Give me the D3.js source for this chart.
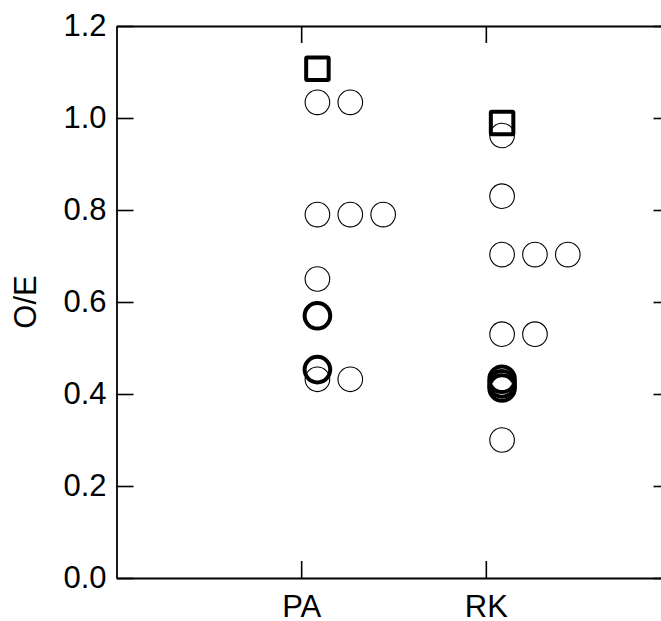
<!DOCTYPE html>
<html>
<head>
<meta charset="utf-8">
<script src="https://cdn.jsdelivr.net/npm/d3@7"></script>
<style>
  html, body { margin: 0; padding: 0; background: #fff; }
  svg { display: block; }
  text { font-family: "Liberation Sans", Arial, Helvetica, sans-serif; fill: #000; }
</style>
</head>
<body>
<svg id="chart" width="661" height="621"></svg>
<script>
// Groups on the x axis
const categories = ["PA", "RK"];
// O/E tick values
const yTicks = [0.0, 0.2, 0.4, 0.6, 0.8, 1.0, 1.2];

// Thin open circles (equal values sit side by side)
const paOpen = [1.034, 1.034, 0.790, 0.790, 0.790, 0.650, 0.432, 0.432];
const rkOpen = [0.962, 0.830, 0.703, 0.703, 0.703, 0.530, 0.530, 0.300];
// Bold open circles
const paBold = [0.570, 0.453];
const rkBold = [0.432, 0.422, 0.413];
// Bold open squares
const paSquare = [1.107];
const rkSquare = [0.989];

const svg = d3.select("#chart");
const plotLeft = 116.5, plotTop = 26, plotBottom = 578, plotRight = 670.5;
const fontSize = 31;

const x = d3.scaleLinear().domain([0, categories.length + 1]).range([plotLeft, plotRight]);
const y = d3.scaleLinear().domain([0, 1.2]).range([plotBottom, plotTop]);

// Dot offset from the category tick: first dot, then spacing between side-by-side dots
const firstOffset = 0.088, slotStep = 0.178;

function withSlots(values, catIndex) {
  const seen = new Map();
  return values.map(v => {
    const k = v.toFixed(3);
    const s = seen.get(k) || 0;
    seen.set(k, s + 1);
    return { cat: catIndex, value: v, slot: s };
  });
}
const px = d => x(d.cat + 1 + firstOffset + slotStep * d.slot);

// Axes: frame on all four sides with inward ticks
const tickLen = 17;
const axisStyle = g => {
  g.selectAll("path.domain").attr("stroke", "#000").attr("stroke-width", 1.8).attr("fill", "none");
  g.selectAll(".tick line").attr("stroke", "#000").attr("stroke-width", 1.6);
  g.selectAll(".tick text").style("font-size", fontSize + "px").attr("fill", "#000");
};
const catTicks = categories.map((c, i) => i + 1);

svg.append("g")
  .attr("transform", `translate(${plotLeft},0)`)
  .call(d3.axisLeft(y).tickValues(yTicks).tickFormat(d3.format(".1f"))
    .tickSize(-tickLen).tickSizeOuter(0).tickPadding(10))
  .call(axisStyle);

svg.append("g")
  .attr("transform", `translate(${plotRight},0)`)
  .call(d3.axisRight(y).tickValues(yTicks).tickFormat("")
    .tickSize(-tickLen).tickSizeOuter(0))
  .call(axisStyle);

svg.append("g")
  .attr("transform", `translate(0,${plotBottom})`)
  .call(d3.axisBottom(x).tickValues(catTicks)
    .tickFormat((d, i) => categories[i])
    .tickSize(-tickLen).tickSizeOuter(0).tickPadding(17))
  .call(axisStyle);

svg.append("g")
  .attr("transform", `translate(0,${plotTop})`)
  .call(d3.axisTop(x).tickValues(catTicks).tickFormat("")
    .tickSize(-tickLen).tickSizeOuter(0))
  .call(axisStyle);

// Y axis title
svg.append("text")
  .attr("transform", `translate(25,${(plotTop + plotBottom) / 2}) rotate(-90)`)
  .attr("text-anchor", "middle")
  .attr("dominant-baseline", "central")
  .style("font-size", fontSize + "px")
  .text("O/E");

// Marks
const open = withSlots(paOpen, 0).concat(withSlots(rkOpen, 1));
const bold = paBold.map(v => ({ cat: 0, value: v, slot: 0 }))
  .concat(rkBold.map(v => ({ cat: 1, value: v, slot: 0 })));
const squares = paSquare.map(v => ({ cat: 0, value: v, slot: 0 }))
  .concat(rkSquare.map(v => ({ cat: 1, value: v, slot: 0 })));

const marks = svg.append("g");

marks.selectAll("circle.open").data(open).join("circle")
  .attr("class", "open")
  .attr("cx", px).attr("cy", d => y(d.value))
  .attr("r", 12.3)
  .attr("fill", "none").attr("stroke", "#000").attr("stroke-width", 1.1);

marks.selectAll("circle.bold").data(bold).join("circle")
  .attr("class", "bold")
  .attr("cx", px).attr("cy", d => y(d.value))
  .attr("r", 12.8)
  .attr("fill", "none").attr("stroke", "#000").attr("stroke-width", 4);

const side = 22.5;
marks.selectAll("rect.square").data(squares).join("rect")
  .attr("class", "square")
  .attr("x", d => px(d) - side / 2).attr("y", d => y(d.value) - side / 2)
  .attr("width", side).attr("height", side)
  .attr("rx", 1)
  .attr("fill", "none").attr("stroke", "#000").attr("stroke-width", 4);
</script>
</body>
</html>
